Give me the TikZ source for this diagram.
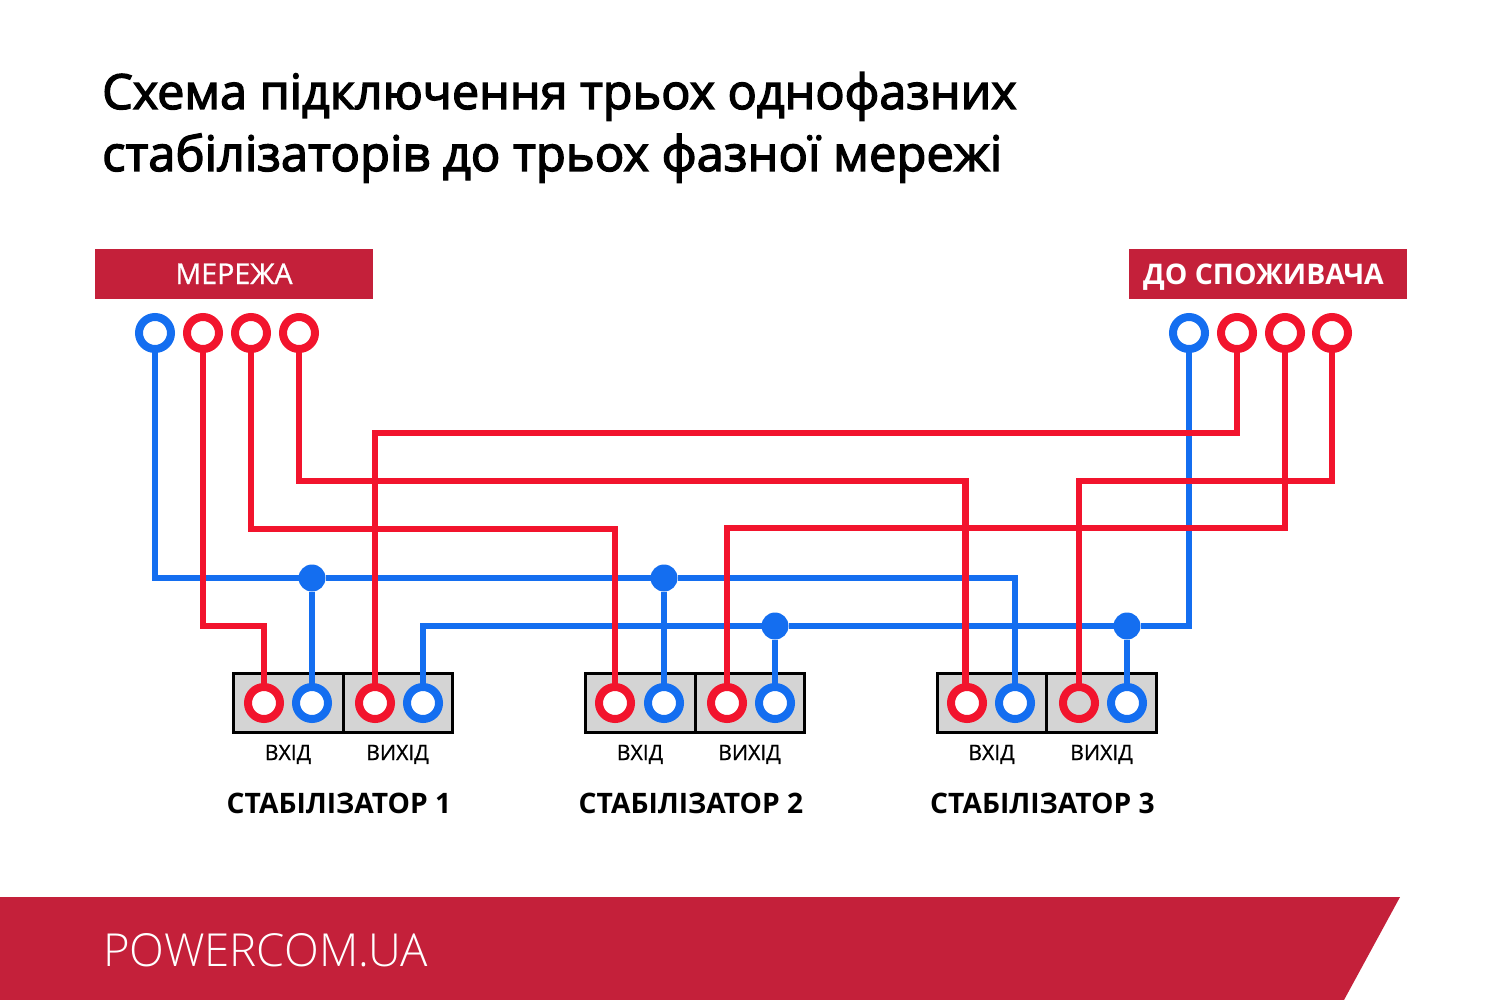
\documentclass[tikz,border=0pt]{standalone}
\usepackage{fontspec}
\setmainfont{Open Sans}
\newfontfamily\titlef[FakeBold=2.8]{Open Sans}
\newfontfamily\medf[FakeBold=0.9]{Open Sans}
\newfontfamily\lightf{Open Sans Light}
\begin{document}
\begin{tikzpicture}[x=1pt,y=-1pt,
  wire/.style={line width=6.8pt,line join=miter},
  redw/.style={wire,draw=wred},
  bluew/.style={wire,draw=wblue},
  term/.style={circle,minimum size=32pt,inner sep=0pt,line width=8pt,fill=white,outer sep=0pt},
  redt/.style={term,draw=wred},
  bluet/.style={term,draw=wblue},
  dot/.style={circle,fill=wblue,minimum size=27pt,inner sep=0pt,outer sep=0pt},
  cell/.style={draw=black,line width=3pt,fill=cellgray,minimum width=109.5pt,minimum height=59pt,inner sep=0pt},
  banner/.style={fill=bannerred,minimum width=278pt,minimum height=49pt,inner sep=0pt},
  bantext/.style={inner sep=0pt,text=white,anchor=base},
  small/.style={font=\medf\fontsize{21.2}{24}\selectfont,inner sep=0pt,text=black},
  stab/.style={font=\bfseries\fontsize{28.2}{32}\selectfont,inner sep=0pt,text=black},
  titletext/.style={anchor=base west,inner sep=0pt}
]
\definecolor{wred}{HTML}{F2142D}
\definecolor{wblue}{HTML}{146EF0}
\definecolor{bannerred}{HTML}{C4203A}
\definecolor{cellgray}{HTML}{D4D4D4}
\useasboundingbox (0,0) rectangle (1501,1000);
\fill[white] (0,0) rectangle (1501,1000);
% title
\node[titletext,font=\titlef\fontsize{48.5}{56}\selectfont] (t1) at (102,109) {Схема підключення трьох однофазних};
\node[titletext,font=\titlef\fontsize{48.9}{56}\selectfont] (t2) at (102,171) {стабілізаторів до трьох фазної мережі};
% banners
\node[banner] (net) at (234,274) {};
\node[banner] (cons) at (1267.5,274) {};
\node[bantext,font=\medf\fontsize{28.6}{32}\selectfont] (netl) at (234,284) {МЕРЕЖА};
\node[bantext,font=\bfseries\fontsize{28.4}{32}\selectfont] (consl) at (1263.5,284) {ДО СПОЖИВАЧА};
% cells
\node[cell] (c1a) at (288.5,702.5) {};
\node[cell] (c1b) at (398,702.5) {};
\node[cell] (c2a) at (640.5,702.5) {};
\node[cell] (c2b) at (750,702.5) {};
\node[cell] (c3a) at (992,702.5) {};
\node[cell] (c3b) at (1101.5,702.5) {};
% junctions
\node[dot] (d1) at (312,578) {};
\node[dot] (d2) at (664,578) {};
\node[dot] (d3) at (775,626) {};
\node[dot] (d4) at (1127,626) {};
% terminals
\node[bluet] (m1) at (155,333) {};
\node[redt] (m2) at (203,333) {};
\node[redt] (m3) at (251,333) {};
\node[redt] (m4) at (299,333) {};
\node[bluet] (o1) at (1189,333) {};
\node[redt] (o2) at (1237,333) {};
\node[redt] (o3) at (1285,333) {};
\node[redt] (o4) at (1332,333) {};
\node[redt] (s1a) at (264,703) {};
\node[bluet] (s1b) at (312,703) {};
\node[redt] (s1c) at (375,703) {};
\node[bluet] (s1d) at (423,703) {};
\node[redt] (s2a) at (615,703) {};
\node[bluet] (s2b) at (664,703) {};
\node[redt] (s2c) at (727,703) {};
\node[bluet] (s2d) at (775,703) {};
\node[redt] (s3a) at (967,703) {};
\node[bluet] (s3b) at (1015,703) {};
\node[redt,fill=cellgray] (s3c) at (1079,703) {};
\node[bluet] (s3d) at (1127,703) {};
% bend points
\coordinate (b1) at (155,578);
\coordinate (b2) at (1015,578);
\coordinate (b3) at (1189,626);
\coordinate (b4) at (423,626);
\coordinate (r1) at (203,626);
\coordinate (r2) at (264,626);
\coordinate (r3) at (251,529);
\coordinate (r4) at (615,529);
\coordinate (r5) at (299,481);
\coordinate (r6) at (965.5,481);
\coordinate (r7) at (1237,433);
\coordinate (r8) at (375,433);
\coordinate (r9) at (1285,528);
\coordinate (r10) at (727,528);
\coordinate (r11) at (1332,481);
\coordinate (r12) at (1079,481);
% blue wires
\draw[bluew] (m1) -- (b1) -- (d1) -- (d2) -- (b2) -- (s3b);
\draw[bluew] (o1) -- (b3) -- (d4) -- (d3) -- (b4) -- (s1d);
\draw[bluew] (d1) -- (s1b);
\draw[bluew] (d2) -- (s2b);
\draw[bluew] (d3) -- (s2d);
\draw[bluew] (d4) -- (s3d);
% red wires
\draw[redw] (m2) -- (r1) -- (r2) -- (s1a);
\draw[redw] (m3) -- (r3) -- (r4) -- (s2a);
\draw[redw] (m4) -- (r5) -- (r6) -- (r6 |- s3a.north);
\draw[redw] (o2) -- (r7) -- (r8) -- (s1c);
\draw[redw] (o3) -- (r9) -- (r10) -- (s2c);
\draw[redw] (o4) -- (r11) -- (r12) -- (s3c);
% labels
\node[small,anchor=base] (l1) at (288,760) {ВХІД};
\node[small,anchor=base] (l2) at (397.5,760) {ВИХІД};
\node[small,anchor=base] (l3) at (640,760) {ВХІД};
\node[small,anchor=base] (l4) at (749.5,760) {ВИХІД};
\node[small,anchor=base] (l5) at (991.5,760) {ВХІД};
\node[small,anchor=base] (l6) at (1101.5,760) {ВИХІД};
\node[stab,anchor=base] (n1) at (339,813) {СТАБІЛІЗАТОР 1};
\node[stab,anchor=base] (n2) at (691,813) {СТАБІЛІЗАТОР 2};
\node[stab,anchor=base] (n3) at (1042.5,813) {СТАБІЛІЗАТОР 3};
% footer
\fill[bannerred] (0,897) -- (1400,897) -- (1344,1000) -- (0,1000) -- cycle;
\node[anchor=base west,inner sep=0pt,text=white,font=\lightf\fontsize{45.5}{50}\selectfont] (site) at (103,966) {POWERCOM.UA};
\end{tikzpicture}
\end{document}
